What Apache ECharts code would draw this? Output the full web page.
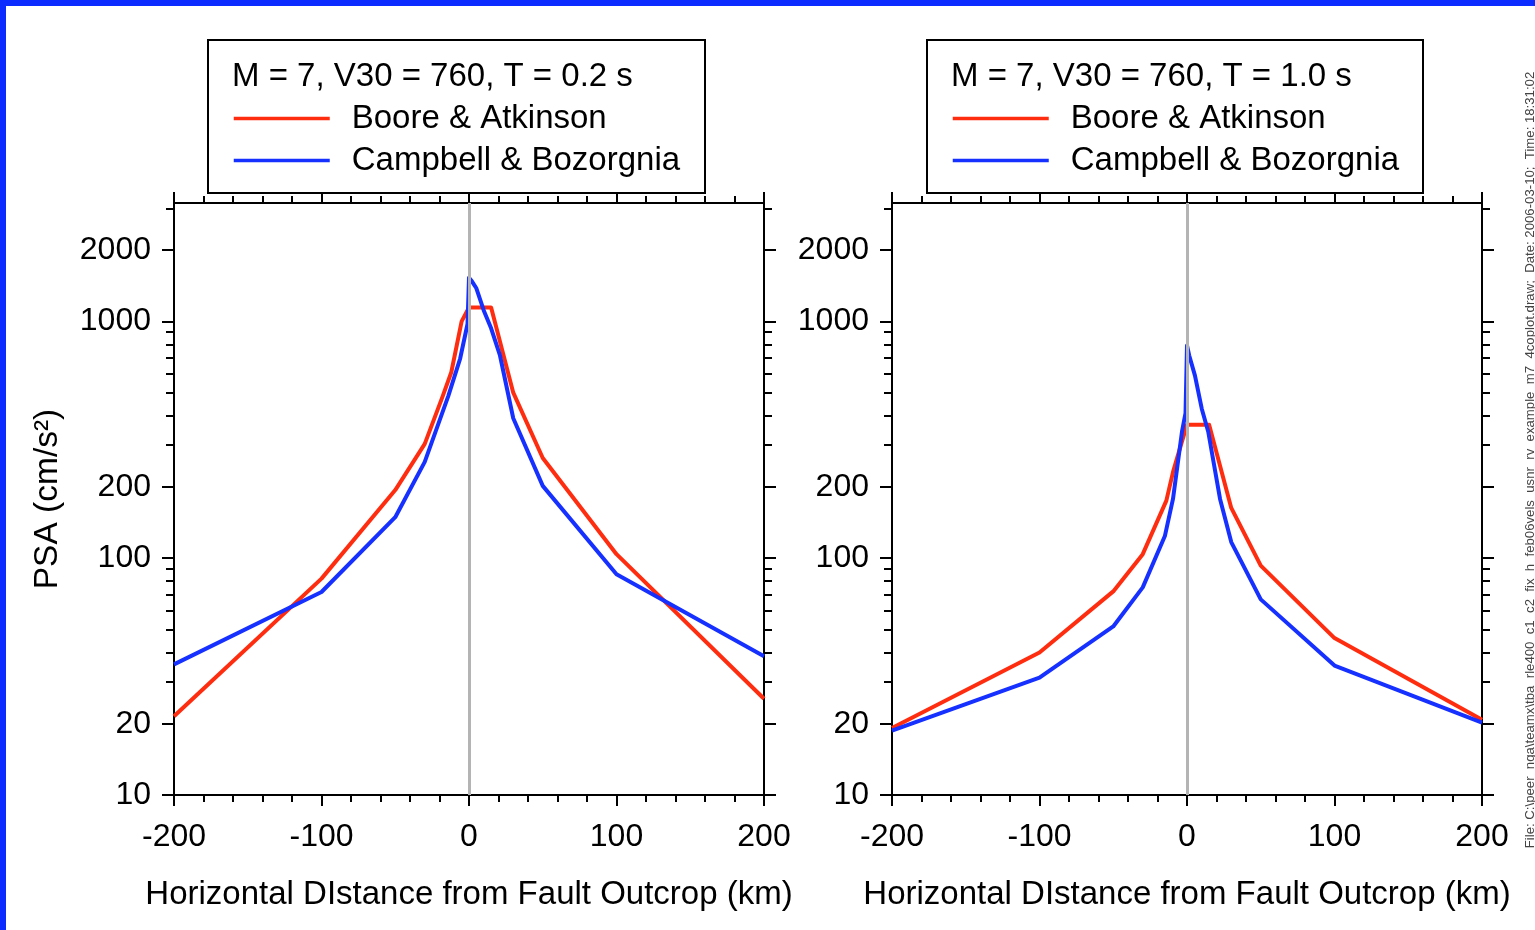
<!DOCTYPE html>
<html>
<head>
<meta charset="utf-8">
<title>PSA vs distance from fault outcrop</title>
<script src="https://cdn.jsdelivr.net/npm/echarts@6/dist/echarts.min.js"></script>
<style>
  html, body { margin: 0; padding: 0; background: #ffffff; }
  #chart { width: 1535px; height: 930px; }
</style>
</head>
<body>
<div id="chart"></div>
<script>
// ---- data -------------------------------------------------------------
// Panel A: M = 7, V30 = 760, T = 0.2 s
const distA_BA = [-200, -100, -50, -30, -18, -12, -5, 0, 15, 30, 50, 100, 200];
const psaA_BA  = [21.5, 82, 194, 304, 480, 610, 1000, 1146, 1146, 500, 265, 104, 25.5];
const distA_CB = [-200, -100, -50, -30, -14, -6, -1, 0, 2, 5, 10, 15, 21, 30, 50, 100, 200];
const psaA_CB  = [35.6, 72, 149, 255, 485, 697, 975, 1530, 1476, 1380, 1113, 935, 718, 390, 202, 85.5, 38.5];

// Panel B: M = 7, V30 = 760, T = 1.0 s
const distB_BA = [-200, -100, -50, -30, -14, -9.5, -3.5, 0, 15, 30, 50, 100, 200];
const psaB_BA  = [19.2, 40, 72.4, 104, 175, 231, 310, 366, 366, 163, 93, 46, 20.8];
const distB_CB = [-200, -100, -50, -30, -15, -9.5, -3.4, -1, 0, 1.5, 5.4, 10, 14.4, 22.4, 30, 50, 100, 200];
const psaB_CB  = [18.7, 31.3, 51.5, 75.3, 124, 178, 342, 410, 791, 718, 590, 428, 342, 178, 117, 67, 35.2, 20.2];

const panelTitles = ['M = 7, V30 = 760, T = 0.2 s', 'M = 7, V30 = 760, T = 1.0 s'];
const seriesNames = ['Boore & Atkinson', 'Campbell & Bozorgnia'];

// axis ticks
const yMajorTicks = [10, 20, 100, 200, 1000, 2000];
const yMinorTicks = [30, 40, 50, 60, 70, 80, 90, 300, 400, 500, 600, 700, 800, 900, 3000];
const xMin = -200, xMax = 200, xStep = 100;
const yMin = 10, yMax = 3162.28;

const xName = 'Horizontal DIstance from Fault Outcrop (km)';
const yName = 'PSA (cm/s\u00B2)';
const fileNote = 'File: C:\\peer_nga\\teamx\\tba_rle400_c1_c2_fix_h_feb06vels_usnr_rv_example_m7_4coplot.draw;  Date: 2006-03-10;  Time: 18:31:02';

// ---- styling ----------------------------------------------------------
const FONT = "'Liberation Sans', Arial, Helvetica, sans-serif";
const RED = '#ff2d10';
const BLUE = '#1530ff';
const INK = '#000000';

const pairs = (xs, ys) => xs.map((x, i) => [x, ys[i]]);

const grids = [
  { left: 174, top: 203, width: 590, height: 592 },
  { left: 892, top: 203, width: 590, height: 592 }
];

const xAxes = [];
const yAxes = [];
const series = [];

grids.forEach((g, gi) => {
  const xBase = {
    type: 'value', gridIndex: gi, min: xMin, max: xMax, interval: xStep,
    axisLine: { show: true, onZero: false, lineStyle: { color: INK, width: 2 } },
    axisTick: { show: true, inside: false, length: 11, lineStyle: { color: INK, width: 2 } },
    minorTick: { show: true, splitNumber: 5, length: 7, lineStyle: { color: INK, width: 2 } },
    splitLine: { show: false }, minorSplitLine: { show: false }
  };
  xAxes.push(Object.assign({}, xBase, {
    position: 'bottom',
    axisLabel: { show: true, fontSize: 32, color: INK, fontFamily: FONT, margin: 26 },
    name: xName, nameLocation: 'middle', nameGap: 83,
    nameTextStyle: { fontSize: 33, color: INK, fontFamily: FONT }
  }));
  xAxes.push(Object.assign({}, xBase, {
    position: 'top', axisLabel: { show: false }
  }));

  const yBase = {
    type: 'log', gridIndex: gi, min: yMin, max: yMax, logBase: 10,
    axisLine: { show: true, onZero: false, lineStyle: { color: INK, width: 2 } },
    splitLine: { show: false }, minorTick: { show: false }
  };
  const yLeftMajor = Object.assign({}, yBase, {
    position: 'left',
    axisTick: { show: true, inside: false, length: 12, customValues: yMajorTicks, lineStyle: { color: INK, width: 2 } },
    axisLabel: { show: true, customValues: yMajorTicks, fontSize: 32, color: INK, fontFamily: FONT, margin: 23,
                 formatter: v => String(Math.round(v)) }
  });
  if (gi === 0) {
    Object.assign(yLeftMajor, {
      name: yName, nameLocation: 'middle', nameGap: 109,
      nameTextStyle: { fontSize: 33.5, color: INK, fontFamily: FONT }
    });
  }
  yAxes.push(yLeftMajor);
  yAxes.push(Object.assign({}, yBase, {
    position: 'left',
    axisTick: { show: true, inside: false, length: 8, customValues: yMinorTicks, lineStyle: { color: INK, width: 2 } },
    axisLabel: { show: false }
  }));
  yAxes.push(Object.assign({}, yBase, {
    position: 'right',
    axisTick: { show: true, inside: false, length: 12, customValues: yMajorTicks, lineStyle: { color: INK, width: 2 } },
    axisLabel: { show: false }
  }));
  yAxes.push(Object.assign({}, yBase, {
    position: 'right',
    axisTick: { show: true, inside: false, length: 8, customValues: yMinorTicks, lineStyle: { color: INK, width: 2 } },
    axisLabel: { show: false }
  }));
});

// zero-distance reference line (fault outcrop)
grids.forEach((g, gi) => {
  series.push({
    type: 'line', name: 'outcrop' + gi, xAxisIndex: gi * 2, yAxisIndex: gi * 4,
    data: [], z: 1, silent: true,
    markLine: {
      silent: true, symbol: ['none', 'none'], label: { show: false },
      lineStyle: { color: '#b4b4b4', width: 3, type: 'solid' },
      data: [{ xAxis: 0 }], animation: false
    }
  });
});

const curveSets = [
  [pairs(distA_BA, psaA_BA), pairs(distA_CB, psaA_CB)],
  [pairs(distB_BA, psaB_BA), pairs(distB_CB, psaB_CB)]
];
curveSets.forEach((set, gi) => {
  set.forEach((data, si) => {
    const color = si === 0 ? RED : BLUE;
    series.push({
      type: 'line', name: seriesNames[si], xAxisIndex: gi * 2, yAxisIndex: gi * 4,
      data: data, showSymbol: false, symbol: 'none', z: 3 + si,
      lineStyle: { color: color, width: 4, join: 'round' },
      itemStyle: { color: color },
      clip: true, animation: false
    });
  });
});

const legendBoxes = [
  { x: 208, y: 40, w: 497, h: 153 },
  { x: 927, y: 40, w: 496, h: 153 }
];

const option = {
  backgroundColor: '#ffffff',
  animation: false,
  textStyle: { fontFamily: FONT },
  grid: grids.map(g => Object.assign({ containLabel: false, outerBoundsMode: 'none' }, g)),
  xAxis: xAxes,
  yAxis: yAxes,
  title: panelTitles.map((t, i) => ({
    text: t, left: legendBoxes[i].x + 24, top: 60, padding: 0,
    textStyle: { fontSize: 33, fontWeight: 'normal', color: INK, fontFamily: FONT }
  })),
  legend: legendBoxes.map((b, i) => ({
    data: seriesNames, orient: 'vertical', left: b.x + 24, top: 102,
    itemWidth: 96, itemHeight: 32, itemGap: 9, padding: 0,
    selectedMode: false,
    itemStyle: { opacity: 0 },
    lineStyle: { width: 3.5 },
    textStyle: { fontSize: 33, color: INK, fontFamily: FONT, padding: [0, 0, 0, 17] }
  })),
  series: series,
  graphic: [
    // frame
    { type: 'rect', left: 0, top: 0, shape: { width: 1535, height: 6 }, style: { fill: '#0c2cff' }, silent: true },
    { type: 'rect', left: 0, top: 0, shape: { width: 6, height: 930 }, style: { fill: '#0c2cff' }, silent: true },
    // legend boxes
    ...legendBoxes.map(b => ({
      type: 'rect', shape: { x: b.x, y: b.y, width: b.w, height: b.h },
      style: { fill: 'none', stroke: INK, lineWidth: 2 }, silent: true, z: 10
    })),
    // plot file note
    {
      type: 'text', x: 1530, y: 460, rotation: Math.PI / 2, silent: true,
      style: { text: fileNote, fontSize: 13.2, fill: '#444444', fontFamily: FONT,
               align: 'center', verticalAlign: 'middle' }
    }
  ]
};

const chart = echarts.init(document.getElementById('chart'), null, { renderer: 'canvas' });
chart.setOption(option);
</script>
</body>
</html>
